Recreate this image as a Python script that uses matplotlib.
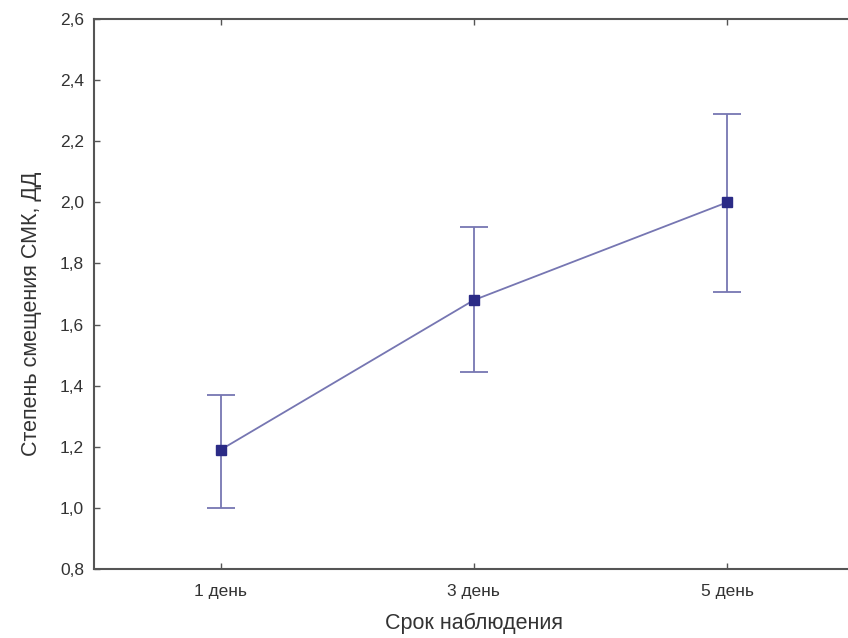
import matplotlib
matplotlib.use('Agg')
import matplotlib.pyplot as plt
import numpy as np

plt.rcParams['font.family'] = ['Liberation Sans', 'DejaVu Sans']

days = ['1 день', '3 день', '5 день']
means = [1.19, 1.68, 2.00]
lower = [1.00, 1.445, 1.705]
upper = [1.37, 1.92, 2.29]

x = np.arange(len(days))
err = [np.array(means) - np.array(lower), np.array(upper) - np.array(means)]

fig = plt.figure(figsize=(8.48, 6.38), dpi=100)
ax = fig.add_axes([0.1108, 0.1082, 0.896, 0.862])

ax.errorbar(x, means, yerr=err, fmt='none', ecolor='#7676b2', elinewidth=1.3,
            capsize=10, capthick=1.3, zorder=2)
ax.plot(x, means, color='#7676b2', lw=1.3, zorder=3)
ax.plot(x, means, 's', color='#2b2b86', ms=7.5, zorder=4)

ax.set_xlim(-0.5, 2.5)
ax.set_ylim(0.8, 2.6)
ax.set_xticks(x)
ax.set_xticklabels(days)
yt = np.arange(0.8, 2.61, 0.2)
ax.set_yticks(yt)
ax.set_yticklabels([f'{v:.1f}'.replace('.', ',') for v in yt])

for s in ax.spines.values():
    s.set_color('#555555')
    s.set_linewidth(1.5)
ax.tick_params(direction='in', length=4, width=1, color='#555555',
               top=True, right=True, labelsize=12.5, labelcolor='#333333')
ax.tick_params(axis='x', pad=11)
ax.tick_params(axis='y', pad=7)

ax.set_xlabel('Срок наблюдения', fontsize=15.5, color='#333333', labelpad=10)
ax.set_ylabel('Степень смещения СМК, ДД', fontsize=15.5, color='#333333')
# label sits a little below the middle of the axis
ax.yaxis.set_label_coords(-0.069, 0.464)

plt.savefig('out.png', dpi=100)
